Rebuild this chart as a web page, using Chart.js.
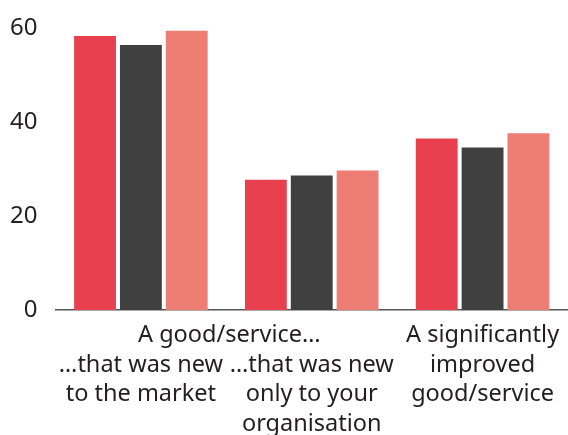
<html>
<head>
<script src="https://cdn.jsdelivr.net/npm/chart.js"></script>
<style>
  body { margin: 0; background: #fff; }
  #wrap { width: 568px; height: 435px; }
</style>
</head>
<body>
<div id="wrap"><canvas id="myChart"></canvas></div>

<script>
// categories (multi-line tick labels); first line of the first two groups is a shared header
const groupHeader = 'A good/service…';
const categories = [
  ['', '…that was new', 'to the market'],
  ['', '…that was new', 'only to your', 'organisation'],
  ['A significantly', 'improved', 'good/service']
];
const seriesRed    = [58.3, 27.7, 36.5];
const seriesDark   = [56.4, 28.6, 34.6];
const seriesSalmon = [59.4, 29.7, 37.6];
const yTicks = [0, 20, 40, 60];

const FONT = '"Noto Sans", sans-serif';
const TEXT = '#231f20';
const LABEL_SIZE = 23.5;
const LINE_H = 29.5;

// draws the shared "A good/service…" header centred over the first two groups
const headerPlugin = {
  id: 'header',
  afterDraw(chart) {
    const x = chart.scales.x;
    const ctx = chart.ctx;
    const mid = (x.getPixelForValue(0) + x.getPixelForValue(1)) / 2;
    const y = x.top + 11 + LINE_H / 2;
    ctx.save();
    ctx.font = LABEL_SIZE + 'px ' + FONT;
    ctx.fillStyle = TEXT;
    ctx.textAlign = 'center';
    ctx.textBaseline = 'middle';
    ctx.fillText(groupHeader, mid + 3, y);
    ctx.restore();
  }
};

const config = {
  type: 'bar',
  data: {
    labels: categories,
    datasets: [
      { data: seriesRed, backgroundColor: '#e8404f' },
      { data: seriesDark, backgroundColor: '#404040' },
      { data: seriesSalmon, backgroundColor: '#ee7e74' }
    ]
  },
  options: {
    responsive: true,
    maintainAspectRatio: false,
    animation: false,
    layout: { padding: { top: 28, right: -6, left: -8, bottom: -15 } },
    plugins: { legend: { display: false }, tooltip: { enabled: false } },
    datasets: { bar: { categoryPercentage: 0.805, barPercentage: 0.913 } },
    scales: {
      x: {
        afterFit(axis) { axis.paddingLeft = 0; axis.paddingRight = 0; },
        grid: { display: false, drawTicks: false },
        border: { display: true, color: '#555', width: 1.5 },
        ticks: {
          color: TEXT,
          padding: 11,
          maxRotation: 0,
          autoSkip: false,
          font: { family: FONT, size: LABEL_SIZE, lineHeight: LINE_H / LABEL_SIZE }
        }
      },
      y: {
        min: 0,
        max: 60,
        afterBuildTicks(axis) { axis.ticks = yTicks.map(v => ({ value: v })); },
        afterFit(axis) { axis.paddingTop = 0; axis.paddingBottom = 0; },
        grid: { display: false, drawTicks: false },
        border: { display: false },
        ticks: {
          color: TEXT,
          padding: 18,
          font: { family: FONT, size: 24 }
        }
      }
    }
  },
  plugins: [headerPlugin]
};

new Chart(document.getElementById('myChart'), config);
</script>
</body>
</html>
